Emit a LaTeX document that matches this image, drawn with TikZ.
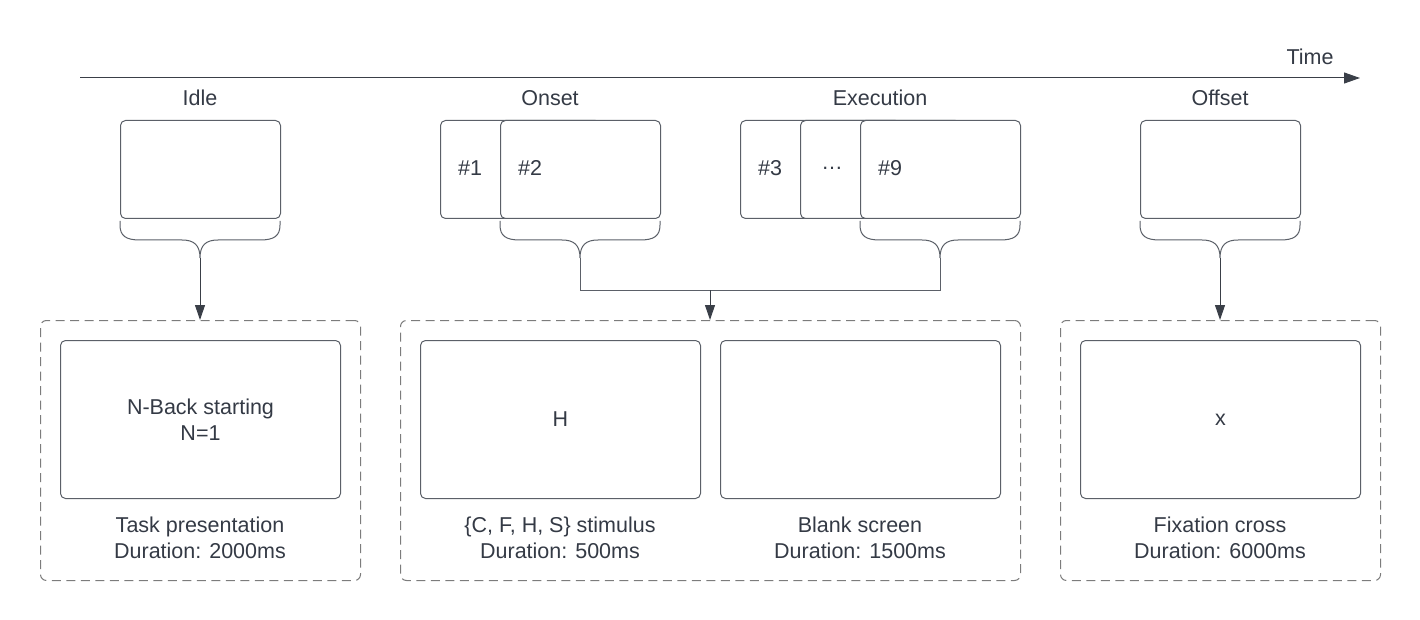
\documentclass[tikz,border=0pt]{standalone}
\usepackage{fontspec}
\setmainfont{Liberation Sans}
\usetikzlibrary{arrows.meta}
\definecolor{txt}{HTML}{343A45}
\definecolor{ln}{HTML}{5B6068}
\definecolor{dsh}{HTML}{7C7C7C}
\definecolor{arr}{HTML}{3A3F48}
\begin{document}
\begin{tikzpicture}[x=1pt,y=-1pt,
  font=\fontsize{21.5}{26}\selectfont, text=txt,
  screen/.style={draw=ln, line width=1pt, rounded corners=5pt, fill=white, minimum width=#1, minimum height=98pt, inner sep=0pt},
  screen/.default=160pt,
  bigscreen/.style={draw=ln, line width=1pt, rounded corners=5pt, fill=white, minimum width=280pt, minimum height=158pt, inner sep=0pt, align=center},
  group/.style={draw=dsh, line width=1pt, dash pattern=on 9pt off 5.5pt, rounded corners=6pt, minimum height=260pt, inner sep=0pt},
  brace/.style={draw=ln, line width=1pt},
  conn/.style={draw=arr, line width=1pt, -{Triangle[length=15pt,width=10pt]}},
  lbl/.style={inner sep=0pt, align=center}]
\useasboundingbox (0,0) rectangle (1420,620);

% timeline
\coordinate (t0) at (80,78);
\coordinate (t1) at (1360,78);
\draw[draw=arr, line width=1pt, -{Triangle[length=16pt,width=11pt]}] (t0) -- (t1);
\node[lbl] (time) at (1310,57) {Time};

% phase labels
\node[lbl] (idle) at (200,98) {Idle};
\node[lbl] (onset) at (550,98) {Onset};
\node[lbl] (exec) at (880,98) {Execution};
\node[lbl] (offset) at (1220,98) {Offset};

% top screens
\node[screen, anchor=north west] (sIdle) at (120,120) {};
\node[screen, anchor=north west] (s1) at (440,120) {};
\node[screen, anchor=north west] (s2) at (500,120) {};
\node[screen, anchor=north west] (s3) at (740,120) {};
\node[screen, anchor=north west] (s4) at (800,120) {};
\node[screen, anchor=north west] (s9) at (860,120) {};
\node[screen, anchor=north west] (sOff) at (1140,120) {};
\node[lbl] (l1) at (470,168) {\#1};
\node[lbl] (l2) at (530,168) {\#2};
\node[lbl] (l3) at (770,168) {\#3};
\node[lbl] (l4) at (832,168) {…};
\node[lbl] (l9) at (890,168) {\#9};

% braces
\foreach \b/\xa/\xm/\xb in {sIdle/120/200/280, s2/500/580/660, s9/860/940/1020, sOff/1140/1220/1300}{
  \coordinate (tip\b) at (\xm,258);
  \draw[brace] (\xa,221) -- (\xa,225) .. controls (\xa,236) and (\xa+6,240) .. (\xa+20,240)
     -- (\xm-18,240) .. controls (\xm-6,240) and (\xm,245) .. (tip\b)
     (tip\b) .. controls (\xm,245) and (\xm+6,240) .. (\xm+18,240)
     -- (\xb-20,240) .. controls (\xb-6,240) and (\xb,236) .. (\xb,225) -- (\xb,221);
}

% groups
\node[group, minimum width=320pt, anchor=north west] (gA) at (40,320) {};
\node[group, minimum width=620pt, anchor=north west] (gB) at (400,320) {};
\node[group, minimum width=320pt, anchor=north west] (gC) at (1060,320) {};

% connectors
\draw[conn] (tipsIdle) -- (gA.north -| tipsIdle);
\coordinate (join) at (710,290);
\draw[brace] (tips2) -- (580,290) -- (940,290) -- (tips9);
\draw[conn] (join) -- (gB.north -| join);
\draw[conn] (tipsOff) -- (gC.north -| tipsOff);

% bottom screens
\node[bigscreen, anchor=north west] (bA) at (60,340) {N-Back starting\\N=1};
\node[bigscreen, anchor=north west] (bB) at (420,340) {H};
\node[bigscreen, anchor=north west] (bC) at (720,340) {};
\node[bigscreen, anchor=north west] (bD) at (1080,340) {x};

% captions
\node[lbl] (cA) at (200,538) {Task presentation\\Duration: 2000ms};
\node[lbl] (cB) at (560,538) {\{C, F, H, S\} stimulus\\Duration: 500ms};
\node[lbl] (cC) at (860,538) {Blank screen\\Duration: 1500ms};
\node[lbl] (cD) at (1220,538) {Fixation cross\\Duration: 6000ms};
\end{tikzpicture}
\end{document}
